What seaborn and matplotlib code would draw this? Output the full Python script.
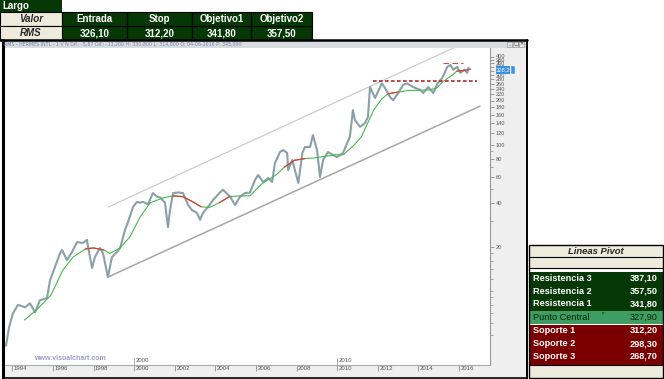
import numpy as np
import pandas as pd
import matplotlib
matplotlib.use("Agg")
import matplotlib.pyplot as plt
import seaborn as sns
from matplotlib.patches import Rectangle, Polygon
from matplotlib.lines import Line2D
from matplotlib.ticker import FixedLocator, NullFormatter
import matplotlib.transforms as mtrans

# ---------------- data ----------------
price_year = [1993.69, 1993.84, 1994.03, 1994.28, 1994.63, 1994.87, 1995.12, 1995.36, 1995.71, 1995.86,
              1996.10, 1996.35, 1996.45, 1996.69, 1996.94, 1997.19, 1997.48, 1997.68, 1997.73, 1997.93,
              1998.07, 1998.32, 1998.47, 1998.71, 1998.91, 1999.16, 1999.31, 1999.55, 1999.70, 1999.95,
              2000.14, 2000.29, 2000.44, 2000.68, 2000.93, 2001.13, 2001.28, 2001.52, 2001.67, 2001.77,
              2001.92, 2002.16, 2002.41, 2002.66, 2002.85, 2003.10, 2003.25, 2003.39, 2003.64, 2003.89,
              2004.23, 2004.38, 2004.73, 2004.97, 2005.22, 2005.46, 2005.71, 2005.96, 2006.11, 2006.36,
              2006.60, 2006.80, 2006.94, 2007.19, 2007.34, 2007.54, 2007.59, 2007.79, 2008.09, 2008.29,
              2008.42, 2008.67, 2008.81, 2009.01, 2009.16, 2009.31, 2009.55, 2009.99, 2010.29, 2010.63,
              2010.78, 2010.88, 2011.13, 2011.37, 2011.52, 2011.62, 2011.87, 2012.01, 2012.21, 2012.36,
              2012.61, 2012.76, 2013.01, 2013.25, 2013.45, 2013.75, 2014.10, 2014.24, 2014.49, 2014.74,
              2014.94, 2015.18, 2015.43, 2015.58, 2015.73, 2015.92, 2016.07, 2016.27, 2016.41, 2016.46,
              2016.56]
price = [4.2, 5.6, 7.0, 8.0, 7.7, 8.2, 7.1, 8.6, 8.9, 11.8,
         14.5, 18.0, 19.0, 16.2, 18.4, 21.5, 21.2, 22.3, 20.0, 14.3,
         17.0, 19.6, 18.0, 12.4, 17.0, 18.4, 19.6, 26.0, 29.5, 37.4,
         40.5, 40.0, 40.5, 39.0, 46.5, 44.0, 43.5, 40.0, 27.2, 35.6,
         46.5, 47.0, 46.5, 38.6, 35.6, 34.0, 30.5, 34.0, 37.4, 41.7,
         47.0, 49.0, 44.0, 38.6, 44.0, 46.5, 47.0, 57.3, 61.8, 55.4,
         58.9, 55.4, 74.8, 88.9, 91.6, 87.5, 66.9, 78.3, 54.6, 87.5,
         96.2, 96.2, 116.0, 91.6, 60.0, 78.3, 88.9, 82.0, 87.5, 113.0,
         172.0, 147.0, 132.0, 140.0, 154.0, 247.0, 208.0, 229.0, 262.0, 243.0,
         211.0, 201.0, 225.0, 256.0, 262.0, 247.0, 236.0, 225.0, 247.0, 225.0,
         262.0, 285.0, 340.0, 350.0, 325.0, 340.0, 309.0, 325.0, 309.0, 333.0,
         328.2]

ma_year = [1994.6, 1995.2, 1995.9, 1996.5, 1997.0, 1997.6, 1998.0, 1998.5, 1998.8, 1999.3,
           1999.8, 2000.3, 2000.8, 2001.4, 2001.9, 2002.4, 2002.9, 2003.3, 2003.7, 2004.2,
           2004.7, 2005.2, 2005.7, 2006.3, 2007.0, 2007.4, 2007.9, 2008.4, 2008.9, 2009.4,
           2009.9, 2010.3, 2010.8, 2011.2, 2011.8, 2012.2, 2012.5, 2012.8, 2013.0, 2013.5,
           2014.0, 2014.5, 2014.9, 2015.2, 2015.7, 2015.9, 2016.2, 2016.5]
ma = [6.3, 7.4, 9.3, 13.9, 17.0, 19.3, 19.6, 19.0, 18.0, 19.5,
      23.4, 32.0, 40.0, 43.0, 44.5, 44.0, 40.5, 37.5, 37.0, 40.0,
      44.0, 44.5, 44.5, 54.0, 62.0, 70.0, 78.0, 80.0, 81.0, 83.0,
      85.0, 85.0, 98.0, 113.0, 172.0, 205.0, 222.0, 226.0, 228.0, 234.0,
      235.0, 236.0, 243.0, 268.0, 300.0, 318.0, 320.0, 325.0]
ma_red_periods = [(1997.6, 1998.5), (2001.9, 2003.3), (2004.2, 2004.7), (2007.4, 2008.4),
                  (2012.5, 2013.0), (2015.9, 2016.5)]

upper_channel_year = [1998.72, 2016.04]
upper_channel = [37.3, 479.0]
lower_channel_year = [1998.72, 2017.04]
lower_channel = [12.4, 183.0]
resistance_level = 272.0
resistance_span = (2011.76, 2016.89)
top_level = 361.0
top_span = (2015.2, 2016.2)
last_price_label = "328,2"

y_major = [20, 40, 60, 80, 100, 120, 140, 160, 180, 200, 220, 240, 260, 280, 300, 320, 340, 360, 380, 400]
y_minor = [5, 6, 7, 8, 9, 10, 12, 14, 16, 18, 30, 50, 70, 90]
x_years = [1994, 1996, 1998, 2000, 2002, 2004, 2006, 2008, 2010, 2012, 2014, 2016]

header_title = "RMS - HERMES INTL - 1 V N Dif.: -5,87 Dif.: -13,200 H: 330,800 L: 314,800 O: 04-06-2016 P: 345,090"

top_cols = ["Entrada", "Stop", "Objetivo1", "Objetivo2"]
top_vals = ["326,10", "312,20", "341,80", "357,50"]

pivot_res_labels = ["Resistencia 3", "Resistencia 2", "Resistencia 1"]
pivot_res_vals = ["387,10", "357,50", "341,80"]
pivot_central = ("Punto Central", "327,90")
pivot_sup_labels = ["Soporte 1", "Soporte 2", "Soporte 3"]
pivot_sup_vals = ["312,20", "298,30", "268,70"]

# ---------------- style ----------------
sns.set_style("white")
plt.rcParams['font.family'] = ['Liberation Sans', 'DejaVu Sans']

W, H = 664, 379
fig = plt.figure(figsize=(W / 100, H / 100), dpi=100)
fig.patch.set_facecolor('white')

def fx(x): return x / W
def fy(y): return 1 - y / H

def rect(x0, y0, x1, y1, fc, ec='none', lw=0.0, z=1):
    fig.add_artist(Rectangle((fx(x0), fy(y1)), (x1 - x0) / W, (y1 - y0) / H,
                             transform=fig.transFigure, facecolor=fc, edgecolor=ec,
                             linewidth=lw, zorder=z))

def line(x0, y0, x1, y1, color='black', lw=1.0, z=3):
    fig.add_artist(Line2D([fx(x0), fx(x1)], [fy(y0), fy(y1)], transform=fig.transFigure,
                          color=color, linewidth=lw, zorder=z))

def text(x, y, s, **kw):
    kw.setdefault('va', 'center')
    kw.setdefault('zorder', 5)
    fig.text(fx(x), fy(y), s, **kw)

DKGREEN = "#053805"
BEIGE = "#efebdc"
DKRED = "#7a0000"
MIDGREEN = "#3f9c62"

# ---------------- chart window background strips ----------------
rect(3, 40, 527, 48, "#d9dde2", z=-2)          # header strip
rect(490, 48, 527, 377, "#efefef", z=-2)       # right axis strip
rect(3, 365, 490, 377, "#efefef", z=-2)        # bottom axis strip
text(4, 44.3, header_title, fontsize=3.4, color="#6f83a8", family='DejaVu Sans')
for i, s in enumerate(["_", "□", "×"]):
    rect(507 + i * 6, 41.5, 512 + i * 6, 46.5, "#e8e8e8", ec="#888888", lw=0.4, z=2)
    text(509.5 + i * 6, 44, s, fontsize=3.5, color="#333333", ha='center', family='DejaVu Sans')

# ---------------- main axes ----------------
ax = fig.add_axes([fx(5), fy(365), (490 - 5) / W, (365 - 48) / H])
ax.set_facecolor('white')
ax.set_yscale('log')

def p_from_y(y):
    return 100 * 2 ** ((144.5 - y) / 44.0)

def yr_from_x(x):
    return 1994 + (x - 12.3) / 20.3

ax.set_ylim(p_from_y(365), p_from_y(48))
ax.set_xlim(yr_from_x(5), yr_from_x(490))

# channel lines
ax.plot(upper_channel_year, upper_channel, color="#cccccc", lw=0.9, zorder=1)
ax.plot(lower_channel_year, lower_channel, color="#a5a5a5", lw=1.1, zorder=1)

# price
df_p = pd.DataFrame({"year": price_year, "price": price})
sns.lineplot(data=df_p, x="year", y="price", ax=ax, color="#8aa0a8", lw=1.5,
             estimator=None, sort=False, zorder=3)

# moving average (green, red when price below)
df_ma = pd.DataFrame({"year": ma_year, "ma": ma})
sns.lineplot(data=df_ma, x="year", y="ma", ax=ax, color="#46b84f", lw=0.8,
             estimator=None, sort=False, zorder=4)
for a, b in ma_red_periods:
    seg = df_ma[(df_ma.year >= a - 1e-6) & (df_ma.year <= b + 1e-6)]
    ax.plot(seg.year, seg.ma, color="#e03a3a", lw=0.9, zorder=5)

# resistance dashed line and top dashes
ax.hlines(resistance_level, *resistance_span, colors="#b22a2a", linestyles=(0, (2.2, 1.4)), lw=1.2, zorder=6)
ax.hlines(top_level, *top_span, colors="#c05050", linestyles=(0, (5, 3)), lw=0.8, zorder=6)

# y axis on right
ax.yaxis.tick_right()
ax.yaxis.set_major_locator(FixedLocator(y_major))
ax.yaxis.set_minor_locator(FixedLocator(y_minor))
ax.set_yticklabels([str(v) for v in y_major])
ax.yaxis.set_minor_formatter(NullFormatter())
ax.tick_params(axis='y', which='major', right=True, length=3, width=0.5, color='#777777',
               labelsize=4.0, labelcolor='#555555', pad=1.2, direction='out')
ax.tick_params(axis='y', which='minor', right=True, length=1.8, width=0.5, color='#888888', direction='out')

# x axis
ax.set_xticks(x_years)
ax.set_xticklabels([str(v) for v in x_years])
ax.tick_params(axis='x', which='major', bottom=True, length=4, width=0.5, color='#777777',
               labelsize=4.3, labelcolor='#555555', pad=-3.6, direction='out')
offset = mtrans.ScaledTranslation(1.5 / 100, 0, fig.dpi_scale_trans)
for lab in ax.get_xticklabels():
    lab.set_horizontalalignment('left')
    lab.set_transform(lab.get_transform() + offset)
ax.set_xlabel("")
ax.set_ylabel("")

for side in ['top', 'left']:
    ax.spines[side].set_visible(False)
ax.spines['right'].set_color('#999999')
ax.spines['right'].set_linewidth(0.8)
ax.spines['bottom'].set_color('#aaaaaa')
ax.spines['bottom'].set_linewidth(0.8)

# decade markers
for yr in [2000, 2010]:
    ax.plot([yr, yr], [p_from_y(357.5), p_from_y(365)], color='#888888', lw=0.5, clip_on=False, zorder=6)
    ax.text(yr + 0.07, p_from_y(360.5), str(yr), fontsize=4.3, color='#555555', va='center', ha='left')

# watermark
ax.text(yr_from_x(34), p_from_y(358.5), "www.visualchart.com", fontsize=5, color="#9c9cd2",
        fontweight='bold', va='center', ha='left')

# last price label box
rect(496, 66, 510, 74, "#3b8fe6", z=6)
text(503, 70, last_price_label, fontsize=4.2, color='white', ha='center', zorder=7)
rect(510.5, 66, 514.5, 74, "#3b8fe6", ec='white', lw=0.3, z=6)

# ---------------- chart window frame ----------------
line(0, 39.5, 527, 39.5, lw=1.8, z=3)
line(3, 39.5, 3, 379, lw=2.2, z=3)
line(527, 39.5, 527, 379, lw=1.4, z=3)
line(3, 377.6, 527, 377.6, lw=1.2, z=3)

# ---------------- top table ----------------
rect(0, 0, 62, 12, DKGREEN, z=2)
text(2, 6.3, "Largo", fontsize=7, color='white', fontweight='bold', ha='left')
rect(0, 12, 62, 26, BEIGE, ec='black', lw=0.8, z=2)
rect(0, 26, 62, 40, BEIGE, ec='black', lw=0.8, z=2)
text(31, 19.3, "Valor", fontsize=7, fontweight='bold', style='italic', ha='center')
text(31, 33.3, "RMS", fontsize=7, fontweight='bold', style='italic', ha='center')
col_edges = [62, 127, 192, 251, 312]
rect(62, 12, 312, 40, DKGREEN, ec='black', lw=0.8, z=2)
line(62, 26.3, 312, 26.3, lw=0.9, z=3)
for xe in col_edges[1:-1]:
    line(xe, 12, xe, 40, lw=0.9, z=3)
for i, (c, v) in enumerate(zip(top_cols, top_vals)):
    xc = (col_edges[i] + col_edges[i + 1]) / 2
    text(xc, 19.3, c, fontsize=7, color='white', fontweight='bold', ha='center')
    text(xc, 33.3, v, fontsize=7, color='white', fontweight='bold', ha='center')

# ---------------- pivot table ----------------
PX0, PX1 = 529, 663
rect(PX0, 245, PX1, 257, BEIGE, z=2)
text((PX0 + PX1) / 2, 251.3, "Lineas Pivot", fontsize=6.8, fontweight='bold', style='italic', ha='center')
rect(PX0, 257, PX1, 268, BEIGE, z=2)
line(PX0, 257, PX1, 257, lw=0.8, z=3)
line(PX0, 268, PX1, 268, lw=0.8, z=3)
rect(PX0, 272, PX1, 310.5, DKGREEN, z=2)
for i, (lab, val) in enumerate(zip(pivot_res_labels, pivot_res_vals)):
    yc = 278.3 + i * 12.7
    text(PX0 + 4, yc, lab, fontsize=6.6, color='white', fontweight='bold', ha='left')
    text(PX1 - 5, yc, val, fontsize=6.6, color='white', fontweight='bold', ha='right')
rect(PX0, 311, PX1, 324, MIDGREEN, z=2)
text(PX0 + 4, 317.8, pivot_central[0], fontsize=6.6, color='#062806', ha='left')
text(PX1 - 5, 317.8, pivot_central[1], fontsize=6.6, color='#062806', ha='right')
fig.add_artist(Polygon([[fx(602), fy(312)], [fx(605), fy(312)], [fx(602), fy(315)]], closed=True,
                       transform=fig.transFigure, facecolor='#0a7a0a', edgecolor='none', zorder=4))
rect(PX0, 324.5, PX1, 364.5, DKRED, z=2)
for i, (lab, val) in enumerate(zip(pivot_sup_labels, pivot_sup_vals)):
    yc = 330.5 + i * 13.0
    text(PX0 + 4, yc, lab, fontsize=6.6, color='white', fontweight='bold', ha='left')
    text(PX1 - 5, yc, val, fontsize=6.6, color='white', fontweight='bold', ha='right')
rect(PX0, 365, PX1, 377.5, BEIGE, z=2)
line(PX0, 364.8, PX1, 364.8, lw=0.8, z=3)
rect(PX0, 245, PX1, 378, 'none', ec='black', lw=1.0, z=4)

fig.savefig("out.png", dpi=100)
